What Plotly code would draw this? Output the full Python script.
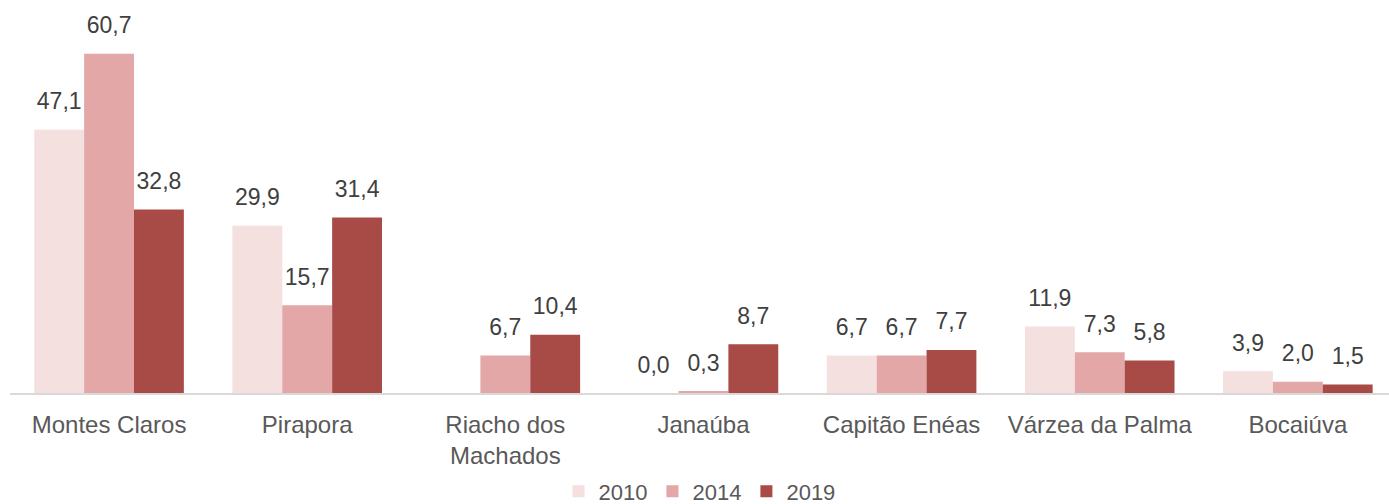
import plotly.graph_objects as go

categories = ["Montes Claros", "Pirapora", "Riacho dos<br>Machados", "Janaúba",
              "Capitão Enéas", "Várzea da Palma", "Bocaiúva"]
years = ["2010", "2014", "2019"]
v2010 = [47.1, 29.9, None, 0.0, 6.7, 11.9, 3.9]
v2014 = [60.7, 15.7, 6.7, 0.3, 6.7, 7.3, 2.0]
v2019 = [32.8, 31.4, 10.4, 8.7, 7.7, 5.8, 1.5]
colors = ["#F4E0DF", "#E2A7A6", "#A84A45"]

series = [v2010, v2014, v2019]
font = "Liberation Sans, Arial, sans-serif"

fig = go.Figure()
for i, (yr, vals, col) in enumerate(zip(years, series, colors)):
    fig.add_trace(go.Bar(
        x=categories, y=vals, name=yr, marker_color=col, marker_line_width=0,
        offsetgroup=str(i), showlegend=True,
    ))
for i, (yr, vals) in enumerate(zip(years, series)):
    fig.add_trace(go.Scatter(
        x=categories, y=vals, mode="markers+text", offsetgroup=str(i),
        text=[None if v is None else f"{v:.1f}".replace(".", ",") for v in vals],
        textposition="top center",
        textfont=dict(family=font, size=23, color="#404040"),
        marker=dict(size=22, color="rgba(0,0,0,0)"),
        showlegend=False, hoverinfo="skip", cliponaxis=False,
    ))

fig.update_layout(
    width=1389, height=504,
    margin=dict(l=10, r=0, t=24, b=111, autoexpand=False),
    paper_bgcolor="white", plot_bgcolor="white",
    barmode="group", bargap=0.245, bargroupgap=0,
    scattermode="group", scattergap=0.245,
    separators=",.",
    font=dict(family=font, size=22, color="#595959"),
    legend=dict(orientation="h", x=0.5, xanchor="center", y=0.025, yanchor="middle",
                yref="container", font=dict(size=22, color="#595959"),
                itemclick=False, traceorder="normal"),
    xaxis=dict(showline=True, linecolor="#D9D9D9", linewidth=1.5, ticks="",
               range=[-0.5, 6.46], ticklabelstandoff=9, automargin=False,
               tickfont=dict(size=24, color="#595959"), showgrid=False),
    yaxis=dict(range=[0, 66], visible=False, showgrid=False, zeroline=False,
               automargin=False),
)

fig.write_html("out.html")
